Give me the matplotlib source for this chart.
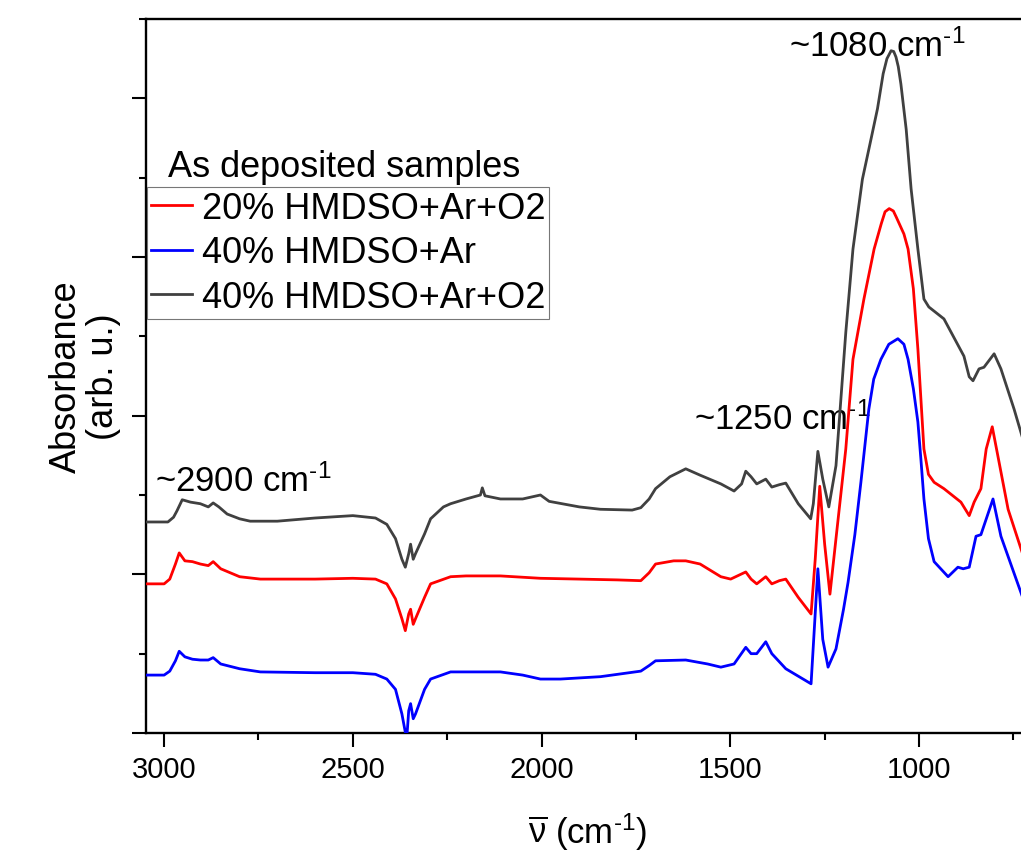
import matplotlib
matplotlib.use("Agg")
import matplotlib.pyplot as plt
from matplotlib.ticker import MultipleLocator, NullFormatter
from matplotlib.lines import Line2D

plt.rcParams['font.family'] = ['Liberation Sans', 'DejaVu Sans']
plt.rcParams['mathtext.fontset'] = 'custom'
plt.rcParams['mathtext.rm'] = 'Liberation Sans'
plt.rcParams['mathtext.it'] = 'Liberation Sans'
plt.rcParams['mathtext.bf'] = 'Liberation Sans:bold'

# ---------------- data (wavenumber in cm^-1, absorbance in arb. u.) -------------
wn_black = [3048, 2990, 2975, 2966, 2952, 2930, 2904, 2883, 2870, 2855, 2833, 2800,
            2772, 2700, 2600, 2500, 2440, 2410, 2387, 2370, 2361, 2352, 2347, 2340,
            2334, 2310, 2294, 2260, 2241, 2200, 2162, 2157, 2150, 2109, 2050, 2003,
            1980, 1900, 1844, 1760, 1737, 1715, 1698, 1660, 1618, 1580, 1525, 1490,
            1470, 1459, 1445, 1430, 1406, 1390, 1370, 1353, 1320, 1287, 1280, 1268,
            1255, 1239, 1220, 1207, 1194, 1175, 1150, 1127, 1110, 1095, 1085, 1074,
            1067, 1061, 1055, 1048, 1034, 1021, 1003, 987, 974, 934, 881, 867, 857,
            841, 828, 801, 783, 748, 727, 700]
ab_black = [2.66, 2.66, 2.72, 2.80, 2.94, 2.91, 2.89, 2.85, 2.90, 2.85, 2.76, 2.70,
            2.67, 2.67, 2.71, 2.74, 2.71, 2.63, 2.45, 2.19, 2.09, 2.26, 2.38, 2.19,
            2.26, 2.51, 2.70, 2.85, 2.89, 2.95, 3.00, 3.09, 2.99, 2.95, 2.95, 3.00,
            2.92, 2.85, 2.82, 2.81, 2.84, 2.95, 3.08, 3.23, 3.33, 3.25, 3.14, 3.05,
            3.14, 3.30, 3.23, 3.14, 3.20, 3.10, 3.13, 3.15, 2.89, 2.70, 2.89, 3.55,
            3.20, 2.85, 3.37, 4.21, 5.05, 6.10, 6.98, 7.49, 7.87, 8.31, 8.50, 8.60,
            8.59, 8.52, 8.40, 8.18, 7.61, 6.86, 6.10, 5.47, 5.37, 5.22, 4.75, 4.49,
            4.44, 4.59, 4.61, 4.78, 4.59, 4.08, 3.74, 3.20]

wn_red = [3048, 3000, 2985, 2970, 2960, 2945, 2925, 2904, 2883, 2870, 2850, 2800,
          2745, 2600, 2500, 2440, 2410, 2387, 2370, 2361, 2352, 2347, 2340, 2334,
          2310, 2294, 2241, 2200, 2109, 2003, 1900, 1800, 1737, 1715, 1698, 1650,
          1618, 1580, 1525, 1499, 1459, 1445, 1430, 1406, 1390, 1370, 1353, 1320,
          1286, 1275, 1263, 1250, 1236, 1220, 1194, 1175, 1146, 1119, 1100, 1090,
          1079, 1068, 1060, 1040, 1029, 1015, 1003, 995, 987, 975, 960, 934, 889,
          867, 854, 836, 822, 806, 791, 764, 727, 700]
ab_red = [1.88, 1.88, 1.94, 2.13, 2.27, 2.17, 2.16, 2.13, 2.11, 2.16, 2.07, 1.97,
          1.94, 1.94, 1.95, 1.94, 1.88, 1.69, 1.44, 1.29, 1.50, 1.56, 1.37, 1.44,
          1.71, 1.88, 1.97, 1.98, 1.98, 1.95, 1.94, 1.93, 1.92, 2.02, 2.13, 2.17,
          2.17, 2.13, 1.97, 1.94, 2.03, 1.94, 1.88, 1.97, 1.88, 1.92, 1.94, 1.71,
          1.50, 2.19, 3.11, 2.38, 1.75, 2.45, 3.58, 4.71, 5.47, 6.10, 6.42, 6.57,
          6.61, 6.58, 6.50, 6.29, 6.10, 5.60, 4.84, 4.21, 3.58, 3.26, 3.16, 3.08,
          2.91, 2.74, 2.91, 3.08, 3.58, 3.86, 3.49, 2.82, 2.28, 1.82]

wn_blue = [3048, 3000, 2985, 2970, 2960, 2945, 2925, 2904, 2883, 2870, 2850, 2800,
           2745, 2600, 2500, 2440, 2410, 2387, 2370, 2361, 2356, 2352, 2347, 2340,
           2334, 2310, 2294, 2241, 2109, 2050, 2003, 1950, 1844, 1737, 1715, 1698,
           1618, 1560, 1525, 1490, 1459, 1445, 1430, 1406, 1390, 1353, 1286, 1268,
           1255, 1241, 1220, 1200, 1188, 1170, 1154, 1133, 1120, 1101, 1080, 1056,
           1040, 1029, 1015, 1003, 995, 987, 975, 960, 923, 897, 883, 867, 849, 836,
           804, 783, 727, 700]
ab_blue = [0.73, 0.73, 0.78, 0.91, 1.03, 0.96, 0.93, 0.92, 0.92, 0.95, 0.87, 0.81,
           0.77, 0.76, 0.76, 0.74, 0.68, 0.55, 0.24, 0.01, 0.01, 0.28, 0.37, 0.18,
           0.24, 0.55, 0.68, 0.77, 0.77, 0.73, 0.68, 0.68, 0.71, 0.78, 0.85, 0.91,
           0.92, 0.87, 0.83, 0.87, 1.08, 1.00, 1.00, 1.15, 1.00, 0.81, 0.62, 2.07,
           1.18, 0.83, 1.06, 1.56, 1.90, 2.50, 3.16, 4.08, 4.46, 4.71, 4.90, 4.97,
           4.90, 4.71, 4.34, 3.92, 3.45, 2.95, 2.45, 2.16, 1.97, 2.09, 2.07, 2.09,
           2.48, 2.50, 2.95, 2.48, 1.73, 1.31]

labels = ['20% HMDSO+Ar+O2', '40% HMDSO+Ar', '40% HMDSO+Ar+O2']
colors = ['#ff0000', '#0000ff', '#404040']
legend_title = 'As deposited samples'
peak_labels = [(r'~1080 cm$^{\text{-1}}$', 1345, 8.53),
               (r'~1250 cm$^{\text{-1}}$', 1597, 3.83),
               (r'~2900 cm$^{\text{-1}}$', 3024, 3.05)]

# ---------------- figure ----------------
W, H = 1021, 853
fig = plt.figure(figsize=(W / 100, H / 100), dpi=100)
ax = fig.add_axes([146 / W, 119 / H, 924 / W, 714 / H])

lw = 2.0
ax.plot(wn_black, ab_black, color=colors[2], lw=lw, zorder=3, solid_joinstyle='round')
ax.plot(wn_red, ab_red, color=colors[0], lw=lw, zorder=3, solid_joinstyle='round')
ax.plot(wn_blue, ab_blue, color=colors[1], lw=lw, zorder=3, solid_joinstyle='round')

ax.set_xlim(3048, 600)
ax.set_ylim(0, 9)

ax.xaxis.set_major_locator(MultipleLocator(500))
ax.xaxis.set_minor_locator(MultipleLocator(250))
ax.yaxis.set_major_locator(MultipleLocator(2))
ax.yaxis.set_minor_locator(MultipleLocator(1))
ax.yaxis.set_major_formatter(NullFormatter())

for s in ['left', 'bottom', 'top', 'right']:
    ax.spines[s].set_linewidth(1.7)
ax.tick_params(axis='both', which='major', direction='out', length=10, width=1.5,
               labelsize=21, pad=6, top=False, right=False)
ax.tick_params(axis='both', which='minor', direction='out', length=5, width=1.5,
               top=False, right=False)

for txt, xx, yy in peak_labels:
    ax.text(xx, yy, txt, fontsize=25, ha='left', va='baseline', zorder=2)

# legend
handles = [Line2D([], [], color=c, lw=lw) for c in colors]
leg = fig.legend(handles, labels, loc='upper left',
                 bbox_to_anchor=(147 / W, 1 - 188 / H), bbox_transform=fig.transFigure,
                 fontsize=26, frameon=True, fancybox=False, borderpad=0.1,
                 borderaxespad=0, handlelength=1.15, handletextpad=0.28,
                 labelspacing=0.27)
leg.get_frame().set_edgecolor('#555555')
leg.get_frame().set_linewidth(0.8)
fig.text(168 / W, 1 - 177 / H, legend_title, fontsize=26, ha='left', va='baseline')

# axis labels
fig.text(85 / W, 1 - 377 / H, 'Absorbance\n(arb. u.)', fontsize=26, rotation=90,
         ha='center', va='center', multialignment='center', linespacing=1.1)
fig.text(588 / W, 1 - 832 / H, r'$\overline{\nu}$ (cm$^{\text{-1}}$)', fontsize=25,
         ha='center', va='center')

fig.savefig('out.png', dpi=100)
